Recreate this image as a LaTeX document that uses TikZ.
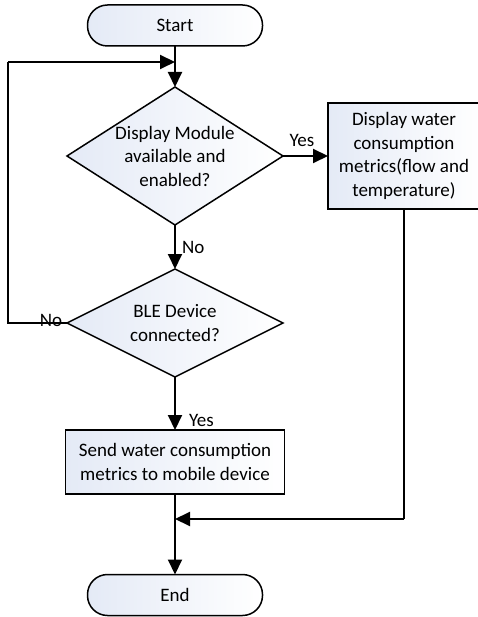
\documentclass[tikz,border=0pt]{standalone}
\usepackage{fontspec}
\setmainfont{Carlito}
\usetikzlibrary{shapes.geometric,arrows.meta}
\definecolor{shadec}{RGB}{228,234,246}
\begin{document}
\begin{tikzpicture}[x=1pt,y=-1pt,
  font=\fontsize{19}{23.5}\selectfont,
  every node/.style={inner sep=0pt,outer sep=0pt},
  boxfill/.style={left color=shadec,right color=white,draw=black,line width=1.5pt},
  terminal/.style={boxfill,rectangle,rounded corners=20pt,minimum width=175pt,minimum height=41pt},
  decision/.style={boxfill,diamond,minimum width=216pt},
  process/.style={boxfill,rectangle,align=center},
  flow/.style={line width=2pt,-{Triangle[length=15pt,width=14pt]}},
  plain/.style={line width=2pt},
  tag/.style={font=\fontsize{19}{20}\selectfont}]
\useasboundingbox (0,0) rectangle (478,617);

% shapes
\node[terminal] (start) at (175,25.5) {Start};
\node[decision,minimum height=138pt,
      label={[align=center]center:Display Module\\available and\\enabled?}] (q1) at (175,156) {};
\node[process,minimum width=152pt,minimum height=106pt] (show) at (404,156)
      {Display water\\consumption\\metrics(flow and\\temperature)};
\node[decision,minimum height=108pt,
      label={[align=center]center:BLE Device\\connected?}] (q2) at (175,323) {};
\node[process,minimum width=219pt,minimum height=64pt] (send) at (175,462)
      {Send water consumption\\metrics to mobile device};
\node[terminal] (end) at (175,595) {End};

% helper points
\coordinate (loopL) at (8,323);
\coordinate (loopT) at (8,62);
\coordinate (join) at (175,62);
\coordinate (merge) at (175,519);
\coordinate (rightD) at (404,519);

% connectors
\draw[flow] (start.south) -- (q1.north);
\draw[flow] (q1.east) -- (show.west) node[tag,pos=0.42,above=9pt] {Yes};
\draw[flow] (q1.south) -- (q2.north) node[tag,pos=0.5,right=7pt] {No};
\draw[plain] (q2.west) -- (loopL) -- (loopT);
\draw[flow] (loopT) -- (join);
\node[tag,anchor=south] (nolab) at (51,327) {No};
\draw[flow] (q2.south) -- (send.north) node[tag,pos=0.82,right=14pt] {Yes};
\draw[plain] (send.south) -- (merge);
\draw[flow] (merge) -- (end.north);
\draw[plain] (show.south) -- (rightD);
\draw[flow] (rightD) -- (merge);
\end{tikzpicture}
\end{document}
